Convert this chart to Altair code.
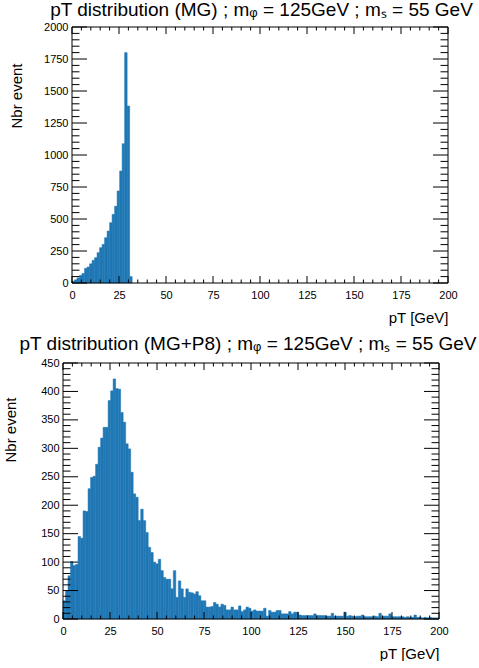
import altair as alt
import pandas as pd

# ---------------- data ----------------
n_bins = 150
x_min, x_max = 0, 200
bin_w = (x_max - x_min) / n_bins

mg_counts = [15, 25, 40, 60, 75, 115, 125, 150, 177, 198, 237, 276, 302, 354,
             406, 471, 536, 600, 719, 875, 1088, 1800, 1383, 50]

p8_counts = [32, 50, 76, 101, 94, 96, 145, 142, 190, 189, 229, 249, 251, 272,
             302, 318, 337, 337, 384, 401, 422, 405, 404, 363, 346, 308, 299,
             258, 220, 214, 173, 193, 173, 152, 126, 117, 100, 97, 105, 85, 73,
             70, 70, 53, 85, 38, 67, 53, 38, 53, 47, 46, 44, 48, 41, 32, 32, 21,
             21, 22, 29, 26, 21, 26, 24, 16, 16, 21, 16, 16, 23, 13, 16, 21, 19,
             14, 16, 14, 14, 14, 19, 5, 15, 12, 12, 15, 15, 9, 9, 9, 13, 9, 12,
             12, 7, 6, 6, 6, 6, 6, 9, 6, 6, 6, 6, 5, 5, 10, 5, 5, 5, 5, 12, 5, 6,
             5, 4, 5, 5, 7, 4, 4, 4, 4, 5, 4, 10, 5, 5, 5, 9, 4, 4, 4, 4, 4, 3, 4,
             3, 3, 7, 3, 3, 2, 3, 2, 3, 2, 2, 2]

x_major = [0, 25, 50, 75, 100, 125, 150, 175, 200]
x_minor = [v for v in range(0, 201, 5) if v % 25]
y_major_mg = [0, 250, 500, 750, 1000, 1250, 1500, 1750, 2000]
y_minor_mg = [v for v in range(0, 2001, 50) if v % 250]
y_major_p8 = [0, 50, 100, 150, 200, 250, 300, 350, 400, 450]
y_minor_p8 = [v for v in range(0, 451, 10) if v % 50]

title_mg = "pT distribution (MG) ; m\u1D69 = 125GeV ; m\u209B = 55 GeV"
title_p8 = "pT distribution (MG+P8) ; m\u1D69 = 125GeV ; m\u209B = 55 GeV"

FONT = "Liberation Sans"
BLUE = "#1f77b4"
H = 256


def hist_df(counts):
    return pd.DataFrame({
        "lo": [x_min + i * bin_w for i in range(len(counts))],
        "hi": [x_min + (i + 1) * bin_w for i in range(len(counts))],
        "n": counts,
    })


def panel(counts, ymax, y_major, y_minor, xl, xr, title, title_dx,
          title_offset, ytitle_x, ytitle_y, yaxis_offset):
    xs = alt.Scale(domain=[x_min, x_max], range=[xl, xr], nice=False, zero=False)
    ys = alt.Scale(domain=[0, ymax], nice=False)
    df = hist_df(counts)
    bars = alt.Chart(df).mark_bar(color=BLUE, stroke=BLUE, strokeWidth=0.5).encode(
        x=alt.X("lo:Q", scale=xs, axis=alt.Axis(
            values=x_major, ticks=False, domain=False, grid=False,
            labelFont=FONT, labelFontSize=11, labelColor="black",
            labelPadding=6, labelFlush=False,
            title="pT [GeV]", titleFont=FONT, titleFontSize=15,
            titleFontWeight="normal", titleColor="black",
            titleX=xr, titleY=34, titleAlign="right", titleBaseline="middle")),
        x2="hi:Q",
        y=alt.Y("n:Q", scale=ys, axis=alt.Axis(
            values=y_major, format="d", ticks=False, domain=False, grid=False,
            offset=yaxis_offset,
            labelFont=FONT, labelFontSize=11, labelColor="black",
            labelPadding=4, labelFlush=False,
            title="Nbr event", titleFont=FONT, titleFontSize=15,
            titleFontWeight="normal", titleColor="black",
            titleAngle=-90, titleX=ytitle_x, titleY=ytitle_y,
            titleAlign="right", titleBaseline="top")),
        y2=alt.datum(0),
    )

    def yticks(vals, length):
        d = pd.DataFrame({"v": vals})
        left = alt.Chart(d).mark_rule(color="black", strokeWidth=1).encode(
            y=alt.Y("v:Q", scale=ys, axis=None),
            x=alt.value(xl), x2=alt.value(xl + length))
        right = alt.Chart(d).mark_rule(color="black", strokeWidth=1).encode(
            y=alt.Y("v:Q", scale=ys, axis=None),
            x=alt.value(xr - length), x2=alt.value(xr))
        return [left, right]

    def xticks(vals, length):
        d = pd.DataFrame({"v": vals})
        bottom = alt.Chart(d).mark_rule(color="black", strokeWidth=1).encode(
            x=alt.X("v:Q", scale=xs, axis=None),
            y=alt.value(H - length), y2=alt.value(H))
        top = alt.Chart(d).mark_rule(color="black", strokeWidth=1).encode(
            x=alt.X("v:Q", scale=xs, axis=None),
            y=alt.value(0), y2=alt.value(length))
        return [bottom, top]

    frame = alt.Chart(pd.DataFrame({"f": [0]})).mark_rect(
        filled=False, stroke="black", strokeWidth=1).encode(
        x=alt.value(xl), x2=alt.value(xr), y=alt.value(0), y2=alt.value(H))

    layers = [bars] + yticks(y_major, 15) + yticks(y_minor, 7.5) + \
        xticks(x_major, 7) + xticks(x_minor, 3.5) + [frame]
    return alt.layer(*layers).resolve_axis(
        x="independent", y="independent"
    ).properties(
        width=xr, height=H,
        view=alt.ViewBackground(stroke=None),
        title=alt.TitleParams(title, font=FONT, fontSize=19,
                              fontWeight="normal", color="black",
                              anchor="middle", baseline="alphabetic",
                              offset=title_offset, dx=title_dx),
    )


top = panel(mg_counts, 2000, y_major_mg, y_minor_mg, 9, 385, title_mg,
            6, -14, -63, 36, -9)
bottom = panel(p8_counts, 450, y_major_p8, y_minor_p8, 0, 376, title_p8,
               -3, -12, -60, 34, 0)

chart = alt.vconcat(top, bottom, spacing=10).properties(
    padding={"left": 2, "top": 1, "right": 0, "bottom": 0}
).configure_view(stroke=None)

chart.save("out.html", embed_options={"renderer": "svg", "actions": False})
